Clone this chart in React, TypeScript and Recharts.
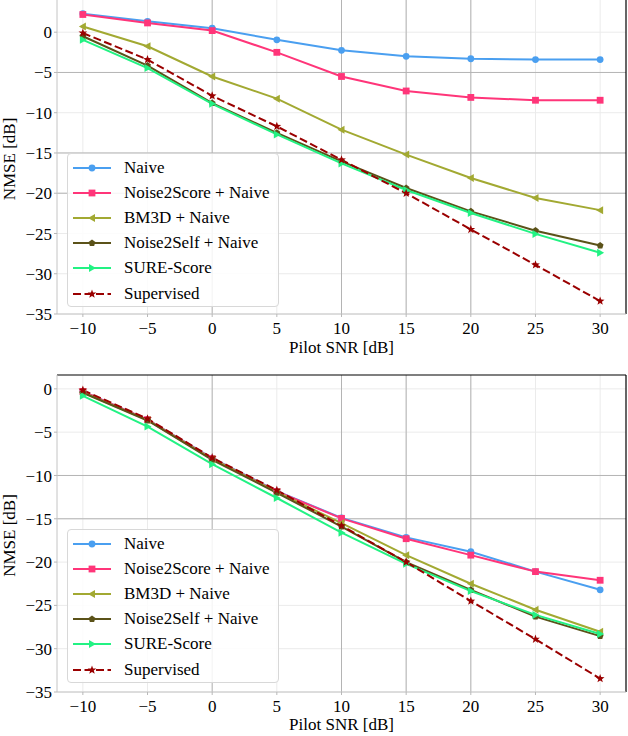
import React from 'react';
import { LineChart, Line, XAxis, YAxis, CartesianGrid, ReferenceLine, Legend } from 'recharts';

// ---------- data ----------
const snrDb = [-10, -5, 0, 5, 10, 15, 20, 25, 30];
const xTicks = [-10, -5, 0, 5, 10, 15, 20, 25, 30];
const yTicks = [-35, -30, -25, -20, -15, -10, -5, 0];

const seriesNames = ['Naive', 'Noise2Score + Naive', 'BM3D + Naive', 'Noise2Self + Naive', 'SURE-Score', 'Supervised'];

// top panel
const topNaive = [2.3, 1.35, 0.5, -0.95, -2.25, -3.0, -3.3, -3.4, -3.4];
const topNoise2Score = [2.2, 1.15, 0.2, -2.5, -5.5, -7.3, -8.1, -8.45, -8.45];
const topBM3D = [0.7, -1.75, -5.5, -8.25, -12.1, -15.2, -18.1, -20.6, -22.1];
const topNoise2Self = [-0.5, -4.15, -8.8, -12.5, -16.05, -19.35, -22.25, -24.65, -26.5];
const topSureScore = [-0.95, -4.45, -8.9, -12.7, -16.3, -19.6, -22.45, -25.05, -27.4];
const topSupervised = [-0.1, -3.4, -7.9, -11.7, -15.85, -20.0, -24.5, -28.9, -33.4];

// bottom panel
const botNaive = [-0.3, -3.55, -8.0, -11.8, -14.9, -17.15, -18.8, -21.1, -23.2];
const botNoise2Score = [-0.3, -3.55, -8.05, -11.85, -14.95, -17.3, -19.2, -21.1, -22.1];
const botBM3D = [-0.4, -3.6, -8.1, -11.9, -15.5, -19.2, -22.5, -25.5, -28.05];
const botNoise2Self = [-0.45, -3.65, -8.2, -12.0, -15.9, -20.0, -23.2, -26.3, -28.55];
const botSureScore = [-0.8, -4.35, -8.7, -12.6, -16.6, -20.2, -23.35, -26.1, -28.3];
const botSupervised = [-0.15, -3.45, -7.95, -11.7, -15.8, -20.0, -24.5, -28.9, -33.45];

const buildRows = (a: number[], b: number[], c: number[], d: number[], e: number[], f: number[]) =>
  snrDb.map((snr, i) => ({ snr, s0: a[i], s1: b[i], s2: c[i], s3: d[i], s4: e[i], s5: f[i] }));

const topRows = buildRows(topNaive, topNoise2Score, topBM3D, topNoise2Self, topSureScore, topSupervised);
const botRows = buildRows(botNaive, botNoise2Score, botBM3D, botNoise2Self, botSureScore, botSupervised);

// ---------- styles ----------
const FONT = 'Liberation Serif';
const FS = 17;
const seriesStyles = [
  { key: 's0', color: '#4a9ff0', shape: 'circle', dash: undefined },
  { key: 's1', color: '#ff3579', shape: 'square', dash: undefined },
  { key: 's2', color: '#a2a932', shape: 'triLeft', dash: undefined },
  { key: 's3', color: '#5b5219', shape: 'pentagon', dash: undefined },
  { key: 's4', color: '#22f283', shape: 'triRight', dash: undefined },
  { key: 's5', color: '#9a0000', shape: 'star', dash: '8 3.5' },
];

const polyPts = (cx: number, cy: number, n: number, r: number, rot: number, inner?: number) => {
  const pts: string[] = [];
  const count = inner ? n * 2 : n;
  for (let i = 0; i < count; i++) {
    const rr = inner ? (i % 2 === 0 ? r : inner) : r;
    const a = rot + (i * 2 * Math.PI) / count;
    pts.push(`${cx + rr * Math.cos(a)},${cy + rr * Math.sin(a)}`);
  }
  return pts.join(' ');
};

const Marker = ({ shape, x, y, color }: { shape: string; x: number; y: number; color: string }) => {
  switch (shape) {
    case 'circle':
      return <circle cx={x} cy={y} r={3.4} fill={color} />;
    case 'square':
      return <rect x={x - 3.4} y={y - 3.4} width={6.8} height={6.8} fill={color} />;
    case 'triLeft':
      return <polygon points={`${x - 4},${y} ${x + 3},${y - 4} ${x + 3},${y + 4}`} fill={color} />;
    case 'triRight':
      return <polygon points={`${x + 4},${y} ${x - 3},${y - 4} ${x - 3},${y + 4}`} fill={color} />;
    case 'pentagon':
      return <polygon points={polyPts(x, y, 5, 3.6, -Math.PI / 2)} fill={color} />;
    case 'star':
      return <polygon points={polyPts(x, y, 5, 4.6, -Math.PI / 2, 1.9)} fill={color} />;
    default:
      return null;
  }
};

const makeDot = (shape: string, color: string) => (props: any) => {
  const { cx, cy, index } = props;
  if (cx == null || cy == null) return <g key={index} />;
  return <Marker key={index} shape={shape} x={cx} y={cy} color={color} />;
};

const LegendBox = () => (
  <div
    style={{
      width: 212,
      height: 154,
      boxSizing: 'border-box',
      border: '1px solid #d8d8d8',
      borderRadius: 4,
      background: 'rgba(255,255,255,0.85)',
      paddingTop: 1,
      fontFamily: FONT,
      fontSize: FS,
      color: '#000',
    }}
  >
    {seriesStyles.map((s, i) => (
      <div key={s.key} style={{ display: 'flex', alignItems: 'center', height: 25.2 }}>
        <svg width={56} height={20} style={{ flex: 'none' }}>
          <line x1={5} x2={43} y1={10} y2={10} stroke={s.color} strokeWidth={2} strokeDasharray={s.dash} />
          <Marker shape={s.shape} x={24} y={10} color={s.color} />
        </svg>
        <span style={{ whiteSpace: 'nowrap', lineHeight: '20px', fontFamily: FONT }}>{seriesNames[i]}</span>
      </div>
    ))}
  </div>
);

const fmt = (v: number) => (v < 0 ? '\u2212' + Math.abs(v) : String(v));

const YLabel = (props: any) => {
  const vb = props.viewBox || { x: 0, y: 0, width: 57, height: 300 };
  const cy = vb.y + vb.height / 2 + 2;
  const x = 15;
  return (
    <text x={x} y={cy} transform={`rotate(-90 ${x} ${cy})`} textAnchor="middle" fill="#000" fontFamily={FONT} fontSize={FS}>
      NMSE [dB]
    </text>
  );
};

type PanelProps = {
  rows: any[];
  height: number;
  marginTop: number;
  xAxisHeight: number;
  yMax: number;
  darkX: number[];
  darkY: number[];
  showTopSpine: boolean;
  legendTop: number;
  xLabelOffset: number;
};

const tickStyle = { fill: '#000', fontSize: FS, fontFamily: FONT };

const Panel = ({ rows, height, marginTop, xAxisHeight, yMax, darkX, darkY, showTopSpine, legendTop, xLabelOffset }: PanelProps) => (
  <LineChart
    width={628}
    height={height}
    data={rows}
    margin={{ top: marginTop, right: 2, bottom: 0, left: 0 }}
  >
    <CartesianGrid stroke="#ebebeb" strokeWidth={1} horizontalValues={yTicks} verticalValues={xTicks} />
    <CartesianGrid stroke="#b4b4b4" strokeWidth={1} horizontalValues={darkY} verticalValues={darkX} />
    <XAxis
      dataKey="snr"
      type="number"
      domain={[-12, 32]}
      ticks={xTicks}
      allowDataOverflow
      height={xAxisHeight}
      tickFormatter={fmt}
      tick={tickStyle}
      tickSize={3}
      tickMargin={5}
      tickLine={{ stroke: '#b8b8b8' }}
      axisLine={{ stroke: '#c4c4c4' }}
      label={{ value: 'Pilot SNR [dB]', position: 'insideBottom', offset: xLabelOffset, fill: '#000', fontSize: FS, fontFamily: FONT }}
    />
    <YAxis
      type="number"
      domain={[-35, yMax]}
      ticks={yTicks}
      allowDataOverflow
      width={57}
      tickFormatter={fmt}
      tick={tickStyle}
      tickSize={3}
      tickMargin={2}
      tickLine={{ stroke: '#b8b8b8' }}
      axisLine={{ stroke: '#c4c4c4' }}
      label={<YLabel />}
    />
    <ReferenceLine x={32} stroke="#000" strokeWidth={1.2} ifOverflow="visible" />
    {showTopSpine && <ReferenceLine y={yMax} stroke="#000" strokeWidth={1.2} ifOverflow="visible" />}
    {seriesStyles.map((s, i) => (
      <Line
        key={s.key}
        type="linear"
        dataKey={s.key}
        name={seriesNames[i]}
        stroke={s.color}
        strokeWidth={2}
        strokeDasharray={s.dash}
        dot={makeDot(s.shape, s.color)}
        activeDot={false}
        isAnimationActive={false}
      />
    ))}
    <Legend
      layout="vertical"
      align="center"
      verticalAlign="middle"
      content={<LegendBox />}
      wrapperStyle={{ left: 67, top: legendTop, width: 212, height: 154 }}
    />
  </LineChart>
);

const globalCss = `#root, #root div, #root span, #root text, #root tspan { font-family: 'Liberation Serif', 'Times New Roman', serif !important; }`;

export default function App() {
  return (
    <div style={{ position: 'absolute', left: 0, top: 0, width: 628, height: 736, background: '#fff', overflow: 'hidden' }}>
      <style>{globalCss}</style>
      <div style={{ position: 'absolute', left: 0, top: 0 }}>
        <Panel
          rows={topRows}
          height={360}
          marginTop={0}
          xAxisHeight={46}
          yMax={4}
          darkX={[0, 10, 15, 20]}
          darkY={[-5, -15, -20]}
          showTopSpine={false}
          legendTop={153}
          xLabelOffset={7}
        />
      </div>
      <div style={{ position: 'absolute', left: 0, top: 360 }}>
        <Panel
          rows={botRows}
          height={376}
          marginTop={15}
          xAxisHeight={44}
          yMax={1.6}
          darkX={[0, 10, 15, 20]}
          darkY={[-10, -15]}
          showTopSpine={true}
          legendTop={169}
          xLabelOffset={6}
        />
      </div>
    </div>
  );
}
